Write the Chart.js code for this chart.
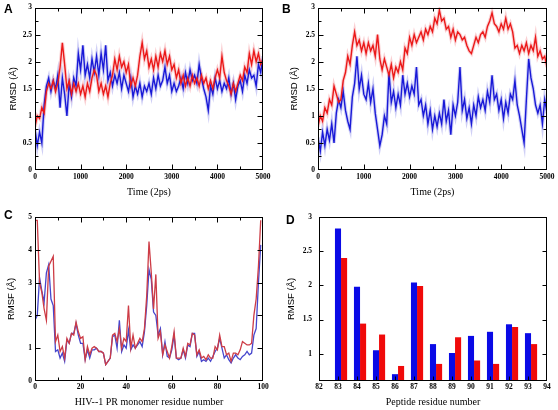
<!DOCTYPE html>
<html><head><meta charset="utf-8">
<script src="https://cdn.jsdelivr.net/npm/chart.js@4.4.1/dist/chart.umd.min.js"></script>
<style>
html,body{margin:0;padding:0;background:#fff;}
#wrap{position:relative;width:558px;height:410px;overflow:hidden;background:#fff;}
.panel{position:absolute;width:279px;height:205px;}
.lbl{position:absolute;font:bold 12px "Liberation Sans",Arial,sans-serif;line-height:12px;color:#000;}
</style></head><body>
<div id="wrap">
<div class="panel" style="left:0;top:0"><canvas id="cA" width="279" height="205"></canvas></div>
<div class="panel" style="left:279px;top:0"><canvas id="cB" width="279" height="205"></canvas></div>
<div class="panel" style="left:0;top:205px"><canvas id="cC" width="279" height="205"></canvas></div>
<div class="panel" style="left:279px;top:205px"><canvas id="cD" width="279" height="205"></canvas></div>
<div class="lbl" style="left:4px;top:2.5px">A</div>
<div class="lbl" style="left:282px;top:2.5px">B</div>
<div class="lbl" style="left:4px;top:208.5px">C</div>
<div class="lbl" style="left:286px;top:213.5px">D</div>
</div>
<script>
// ---------- DATA ----------
const times = [0,50,100,150,200,250,300,350,400,450,500,550,600,650,700,750,800,850,900,950,
1000,1050,1100,1150,1200,1250,1300,1350,1400,1450,1500,1550,1600,1650,1700,1750,1800,1850,1900,1950,
2000,2050,2100,2150,2200,2250,2300,2350,2400,2450,2500,2550,2600,2650,2700,2750,2800,2850,2900,2950,
3000,3050,3100,3150,3200,3250,3300,3350,3400,3450,3500,3550,3600,3650,3700,3750,3800,3850,3900,3950,
4000,4050,4100,4150,4200,4250,4300,4350,4400,4450,4500,4550,4600,4650,4700,4750,4800,4850,4900,4950,5000];

const rmsdA_blue = [0.75,0.45,0.7,0.5,1.2,1.55,1.7,1.45,1.65,1.5,1.75,1.15,1.7,1.4,1.0,1.6,1.35,1.7,1.55,2.15,
1.85,2.3,1.75,1.95,1.7,2.05,1.8,2.1,1.75,2.15,1.85,2.3,1.65,1.8,1.55,1.75,1.6,1.8,1.5,1.75,
1.6,1.45,1.7,1.35,1.55,1.4,1.6,1.35,1.55,1.45,1.6,1.4,1.7,1.5,1.75,1.55,1.65,1.9,1.6,1.75,
1.45,1.6,1.45,1.55,1.7,1.5,1.8,1.6,1.85,1.65,1.75,1.6,1.95,1.7,1.5,1.35,1.1,1.55,1.4,1.7,
1.5,1.65,1.45,1.6,1.5,1.7,1.4,1.6,1.3,1.55,1.65,1.45,1.75,1.6,1.85,1.7,1.75,1.55,1.95,1.8,2.1];

const rmsdA_red = [0.8,1.0,0.95,1.15,1.05,1.45,1.6,1.5,1.65,1.45,1.6,1.9,2.35,1.95,1.5,1.65,1.4,1.6,1.45,1.6,
1.4,1.55,1.35,1.6,1.45,1.7,1.85,1.75,1.45,1.6,1.4,1.55,1.35,1.6,1.75,2.05,1.85,2.1,1.9,2.0,
1.8,1.95,1.55,1.7,1.55,1.75,2.1,2.35,2.05,2.2,1.9,2.05,1.85,2.1,1.9,2.15,2.0,2.2,1.95,2.1,
1.85,1.95,1.7,1.85,1.6,1.75,1.55,1.7,1.55,1.75,1.6,1.7,1.55,1.75,1.6,1.7,1.5,1.65,1.5,1.7,
1.85,1.7,2.1,1.8,1.65,1.55,1.4,1.6,1.45,1.6,1.75,1.65,1.9,1.8,2.15,1.95,2.2,2.0,2.15,1.95,2.05];

const rmsdB_blue = [0.6,0.35,0.7,0.45,0.75,0.55,0.85,0.5,1.05,1.3,1.15,1.45,1.1,0.9,0.75,1.35,1.6,2.1,1.5,1.75,
1.4,1.3,1.6,1.25,1.5,1.05,0.75,0.45,0.65,1.0,0.85,1.8,1.25,1.45,1.15,1.4,1.2,1.75,1.4,1.6,
1.35,1.55,1.4,1.9,1.2,1.3,1.0,1.2,0.85,1.1,0.75,1.0,0.8,1.05,0.85,1.3,0.9,1.1,0.65,1.2,
1.0,1.25,1.9,1.1,1.3,0.95,1.15,0.85,1.2,1.0,1.35,1.15,1.3,1.1,1.45,1.25,1.75,1.3,1.4,1.1,
1.3,0.95,1.25,1.05,1.4,1.3,1.65,1.2,1.0,0.75,0.5,1.3,2.05,1.7,1.5,1.2,1.05,1.2,0.85,1.3,1.05];

const rmsdB_red = [0.8,1.0,0.9,1.15,1.05,1.3,1.2,1.55,1.4,1.25,1.3,1.65,1.8,2.1,1.95,2.3,2.55,2.3,2.4,2.2,
2.35,2.15,2.35,2.2,2.3,2.1,2.5,2.05,1.85,2.05,1.9,1.75,1.95,1.7,1.9,1.8,2.0,1.85,2.25,2.15,
2.45,2.3,2.5,2.35,2.45,2.55,2.4,2.6,2.5,2.65,2.55,2.8,2.7,2.95,2.75,2.8,2.6,2.65,2.45,2.6,
2.4,2.55,2.5,2.4,2.45,2.3,2.2,2.15,2.3,2.45,2.35,2.5,2.55,2.45,2.65,2.75,2.9,2.7,2.65,2.55,
2.7,2.6,2.8,2.6,2.7,2.55,2.25,2.3,2.15,2.3,2.2,2.35,2.15,2.3,2.2,2.45,2.1,2.2,2.05,2.1,1.9];

const residues = [0,1,2,3,4,5,6,7,8,9,10,11,12,13,14,15,16,17,18,19,20,21,22,23,24,25,26,27,28,29,
30,31,32,33,34,35,36,37,38,39,40,41,42,43,44,45,46,47,48,49,50,51,52,53,54,55,56,57,58,59,
60,61,62,63,64,65,66,67,68,69,70,71,72,73,74,75,76,77,78,79,80,81,82,83,84,85,86,87,88,89,
90,91,92,93,94,95,96,97,98,99];

const rmsfC_red = [4.9,4.9,3.0,2.7,2.2,1.85,3.5,3.65,3.8,1.2,1.4,0.9,1.05,0.7,1.3,1.15,1.45,1.4,1.8,1.5,
1.3,1.35,0.65,1.05,0.8,1.0,1.05,1.0,0.9,0.9,0.85,0.5,0.6,0.7,1.4,1.45,1.2,1.6,1.0,1.3,
1.2,2.3,1.0,1.4,1.0,1.15,1.3,1.2,1.6,2.6,4.25,3.3,2.2,3.25,1.3,1.5,0.8,1.1,0.9,0.7,
1.05,1.5,0.7,0.7,0.7,1.0,0.75,1.15,1.1,1.45,1.4,0.8,0.95,0.7,0.75,0.65,0.8,0.7,0.7,1.05,
0.95,1.4,1.05,1.05,0.8,0.85,0.6,0.85,0.85,0.8,0.95,1.2,1.15,1.1,1.1,1.15,2.0,2.5,3.5,4.9];

const rmsfC_blue = [1.85,2.0,3.15,2.75,2.4,3.3,3.55,2.5,2.3,0.9,0.95,0.7,0.85,0.6,1.25,1.15,1.45,1.45,1.75,1.4,
1.15,1.15,0.65,0.95,0.7,0.95,0.95,1.0,0.9,0.9,0.85,0.5,0.6,0.7,1.35,1.4,1.0,1.85,0.9,1.1,
1.0,1.55,0.95,1.1,1.0,1.1,1.2,1.05,1.5,2.3,3.4,3.1,2.1,2.0,1.4,1.6,0.8,1.2,0.75,0.7,
0.95,1.4,0.7,0.65,0.7,0.95,0.7,1.1,1.05,1.45,1.45,0.75,0.9,0.6,0.65,0.6,0.7,0.6,0.75,0.9,
1.0,1.3,1.0,0.7,0.8,0.65,0.55,0.7,0.8,0.7,0.65,0.75,0.8,0.9,0.8,0.85,1.4,1.6,3.0,4.15];

const peptideResidues = [83,84,85,86,87,88,89,90,91,92,93];
const rmsfD_blue = [2.83,1.98,1.05,0.70,2.04,1.14,1.01,1.26,1.32,1.43,1.30];
const rmsfD_red  = [2.40,1.44,1.28,0.82,1.99,0.85,1.24,0.90,0.85,1.39,1.14];
const yTicksD = [1,1.5,2,2.5,3];

// ---------- STYLE / HELPERS ----------
const SERIF = '"Liberation Serif","Times New Roman",serif';
const SANS = '"Liberation Sans",Arial,sans-serif';
const tickFont = {family: SERIF, size: 7.5, weight: 'bold'};
const fmt = v => String(Math.round(v * 100) / 100);

function makeFrame(o) {
  return {
    id: 'frame',
    afterDraw(chart) {
      const {ctx, chartArea: a} = chart;
      const xs = chart.scales.x, ys = chart.scales.y;
      const L = Math.round(a.left) + 0.5, R = Math.round(a.right) - 0.5;
      const T = Math.round(a.top) + 0.5, B = Math.round(a.bottom) - 0.5;
      const clamp = (p, lo, hi) => Math.min(hi, Math.max(lo, p));
      ctx.save();
      ctx.strokeStyle = '#000';
      ctx.lineWidth = 1;
      ctx.strokeRect(L, T, R - L, B - T);
      ctx.beginPath();
      const xt = (v, len) => {
        const p = clamp(Math.round(xs.getPixelForValue(v)) + 0.5, L, R);
        ctx.moveTo(p, B); ctx.lineTo(p, B - len);
        if (o.top) { ctx.moveTo(p, T); ctx.lineTo(p, T + len); }
      };
      const yt = (v, len) => {
        const p = clamp(Math.round(ys.getPixelForValue(v)) + 0.5, T, B);
        ctx.moveTo(L, p); ctx.lineTo(L + len, p);
        if (o.right) { ctx.moveTo(R, p); ctx.lineTo(R - len, p); }
      };
      xs.ticks.forEach(t => xt(t.value, o.major));
      ys.ticks.forEach(t => yt(t.value, o.major));
      if (o.xMinor) for (let v = xs.min; v <= xs.max + 1e-9; v += o.xMinor) xt(v, o.minor);
      if (o.yMinor) for (let v = ys.min; v <= ys.max + 1e-9; v += o.yMinor) yt(v, o.minor);
      ctx.stroke();
      ctx.restore();
    }
  };
}

function xAxis(min, max, step, title, tickPad, titlePadB, h) {
  return {
    type: 'linear', min, max, offset: false,
    ticks: {stepSize: step, font: tickFont, color: '#000', padding: tickPad, maxRotation: 0, autoSkip: false, callback: fmt},
    grid: {display: false, drawTicks: false, offset: false},
    border: {display: false},
    title: {display: true, text: title, color: '#000', font: {family: SERIF, size: 10}, padding: {top: 0, bottom: titlePadB}},
    afterFit(s) { s.height = h; }
  };
}
function yAxis(min, max, step, title, tickPad, titlePadT, w) {
  return {
    type: 'linear', min, max,
    ticks: {stepSize: step, font: tickFont, color: '#000', padding: tickPad, autoSkip: false, callback: fmt},
    grid: {display: false, drawTicks: false},
    border: {display: false},
    title: {display: true, text: title, color: '#000', font: {family: SANS, size: 9.5}, padding: {top: titlePadT, bottom: 0}},
    afterFit(s) { s.width = w; }
  };
}
const pts = (xsArr, ysArr) => xsArr.map((x, i) => ({x, y: ysArr[i]}));

const RED = 'rgb(235,25,25)', BLUE = 'rgb(25,25,215)';
const RED_HALO = 'rgba(240,120,130,0.35)', BLUE_HALO = 'rgba(120,120,230,0.35)';
const baseOpts = {responsive: false, animation: false, devicePixelRatio: 1,
  plugins: {legend: {display: false}, tooltip: {enabled: false}}};
const lineDs = (data, color, w) => ({data, borderColor: color, borderWidth: w, pointRadius: 0, tension: 0, clip: 0});

function rmsdChart(id, blue, red, padR, yW, yTitlePad) {
  new Chart(document.getElementById(id), {
    type: 'line',
    data: {datasets: [
      lineDs(pts(times, red), RED, 1.4),
      lineDs(pts(times, blue), BLUE, 1.4),
      lineDs(pts(times, red), RED_HALO, 3.5),
      lineDs(pts(times, blue), BLUE_HALO, 3.5)
    ]},
    options: Object.assign({}, baseOpts, {
      layout: {padding: {top: 6, right: padR, left: 0, bottom: 0}},
      scales: {
        x: xAxis(0, 5000, 1000, 'Time (2ps)', 3, 7, 35),
        y: yAxis(0, 3, 0.5, 'RMSD (Å)', 3, yTitlePad, yW)
      }
    }),
    plugins: [makeFrame({top: true, right: true, major: 5, minor: 3, xMinor: 500, yMinor: 0.25})]
  });
}
rmsdChart('cA', rmsdA_blue, rmsdA_red, 16, 35, 7.3);
rmsdChart('cB', rmsdB_blue, rmsdB_red, 11, 39, 9.3);

new Chart(document.getElementById('cC'), {
  type: 'line',
  data: {datasets: [
    lineDs(pts(residues, rmsfC_red), 'rgb(205,60,70)', 1.3),
    lineDs(pts(residues, rmsfC_blue), 'rgb(70,70,205)', 1.3)
  ]},
  options: Object.assign({}, baseOpts, {
    layout: {padding: {top: 12, right: 16, left: 0, bottom: 0}},
    scales: {
      x: xAxis(0, 100, 20, 'HIV--1 PR monomer residue number', 2, 2, 29),
      y: yAxis(0, 5, 1, 'RMSF (Å)', 3, 5.3, 35)
    }
  }),
  plugins: [makeFrame({top: true, right: true, major: 5, minor: 3, xMinor: 10})]
});

const yD = yAxis(0.6, 3, 0.5, 'RMSF (Å)', 7, 6.3, 40);
yD.afterBuildTicks = s => { s.ticks = yTicksD.map(value => ({value})); };
new Chart(document.getElementById('cD'), {
  type: 'bar',
  data: {datasets: [
    {data: pts(peptideResidues, rmsfD_blue), backgroundColor: 'rgb(10,10,230)', borderWidth: 0, xAxisID: 'xb'},
    {data: pts(peptideResidues, rmsfD_red), backgroundColor: 'rgb(240,10,10)', borderWidth: 0, xAxisID: 'xb'}
  ]},
  options: Object.assign({}, baseOpts, {
    layout: {padding: {top: 12, right: 11, left: 0, bottom: 0}},
    datasets: {bar: {categoryPercentage: 0.64, barPercentage: 1.0}},
    scales: {
      x: xAxis(82, 94, 1, 'Peptide residue number', 2, 2, 29),
      xb: {type: 'linear', display: false, offset: false, min: 81.84, max: 93.84, grid: {offset: false}},
      y: yD
    }
  }),
  plugins: [makeFrame({top: false, right: true, major: 4, minor: 0})]
});
</script>
</body></html>
